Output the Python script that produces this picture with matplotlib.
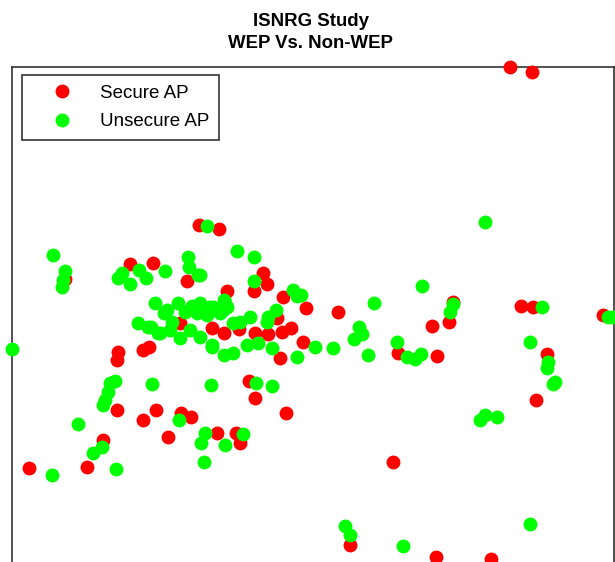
import matplotlib
matplotlib.use("Agg")
import matplotlib.pyplot as plt
from matplotlib.lines import Line2D

plt.rcParams['font.family'] = ['Liberation Sans', 'DejaVu Sans']

# positions (x to the right, y downward)
secure_x = [510, 532, 199, 219, 130, 153, 187, 263, 267, 254, 227, 283, 306, 65,
            180, 212, 224, 239, 255, 268, 282, 291, 303, 280, 277, 118, 117, 143, 149,
            249, 255, 117, 143, 156, 181, 191, 168, 217, 236, 240, 103, 87, 29, 286,
            338, 432, 449, 453, 398, 437, 521, 533, 547, 536, 603, 393, 350, 436, 491]
secure_y = [67, 72, 225, 229, 264, 263, 281, 273, 284, 291, 291, 297, 308, 279,
            323, 328, 333, 329, 333, 334, 332, 328, 342, 358, 318, 352, 360, 350, 347,
            381, 398, 410, 420, 410, 413, 417, 437, 433, 433, 443, 440, 467, 468, 413,
            312, 326, 322, 302, 353, 356, 306, 307, 354, 400, 315, 462, 545, 557, 559]

unsecure_x = [12, 53, 65, 63, 62, 207, 188, 189, 198, 237, 254, 254, 118, 122, 130,
              139, 146, 165, 293, 297, 155,
              178, 200, 164, 138, 151, 160, 172, 180, 190, 200, 212, 192, 213, 224,
              227, 220, 207, 197, 185, 167, 148, 158, 170, 210, 225, 223, 268, 276,
              250, 240, 233, 267, 212, 224, 233, 247, 258, 272, 297, 315, 200,
              115, 110, 108, 105, 103, 152, 211, 256, 272, 78, 179, 205, 201, 225,
              243, 102, 93, 52, 116, 204,
              485, 422, 374, 301, 453, 450, 359, 362, 354, 333, 368, 397, 407, 415,
              421, 542, 530, 548, 547, 555, 608, 613,
              480, 485, 497, 553, 345, 350, 403, 530]
unsecure_y = [349, 255, 271, 280, 287, 226, 257, 267, 275, 251, 257, 281, 278, 273, 284,
              270, 278, 271, 290, 296, 303,
              303, 303, 313, 323, 327, 333, 322, 338, 330, 337, 347, 306, 307, 300,
              307, 313, 315, 313, 312, 310, 327, 333, 330, 307, 303, 310, 317, 310,
              317, 322, 323, 322, 345, 355, 353, 345, 343, 348, 357, 347, 275,
              381, 383, 392, 400, 405, 384, 385, 383, 386, 424, 420, 433, 443, 445,
              434, 447, 453, 475, 469, 462,
              222, 286, 303, 295, 304, 312, 327, 334, 339, 348, 355, 342, 357, 359,
              354, 307, 342, 362, 368, 382, 317, 317,
              420, 415, 417, 384, 526, 535, 546, 524]

fig = plt.figure(figsize=(6.15, 5.62), dpi=100)
ax = fig.add_axes([12 / 615, 1 - 580 / 562, 602 / 615, 513 / 562])

red = '#ff0000'
green = '#00ff00'
ax.scatter(secure_x, secure_y, s=100, color=red, linewidths=0, clip_on=False, zorder=3)
ax.scatter(unsecure_x, unsecure_y, s=100, color=green, linewidths=0, clip_on=False, zorder=4)

ax.set_xlim(12, 614)
ax.set_ylim(580, 67)
ax.set_xticks([])
ax.set_yticks([])
for sp in ax.spines.values():
    sp.set_color('#333333')
    sp.set_linewidth(1.2)

fig.text(0.505, 1 - 21 / 562, 'ISNRG Study', ha='center', va='center',
         fontsize=13.4, fontweight='bold')
fig.text(0.505, 1 - 44 / 562, 'WEP Vs. Non-WEP', ha='center', va='center',
         fontsize=13.4, fontweight='bold')

handles = [Line2D([], [], linestyle='none', marker='o', markersize=10,
                  markerfacecolor=red, markeredgewidth=0, label='Secure AP'),
           Line2D([], [], linestyle='none', marker='o', markersize=10,
                  markerfacecolor=green, markeredgewidth=0, label='Unsecure AP')]
leg = ax.legend(handles=handles, loc='upper left', bbox_to_anchor=(22 / 615, 1 - 75 / 562),
                bbox_transform=fig.transFigure, borderaxespad=0, fancybox=False,
                framealpha=1, edgecolor='#333333', fontsize=13.5, handletextpad=0.35,
                borderpad=0.5, labelspacing=0.62, handlelength=3.3)
leg.get_frame().set_linewidth(1.2)

fig.savefig('out.png', dpi=100)
